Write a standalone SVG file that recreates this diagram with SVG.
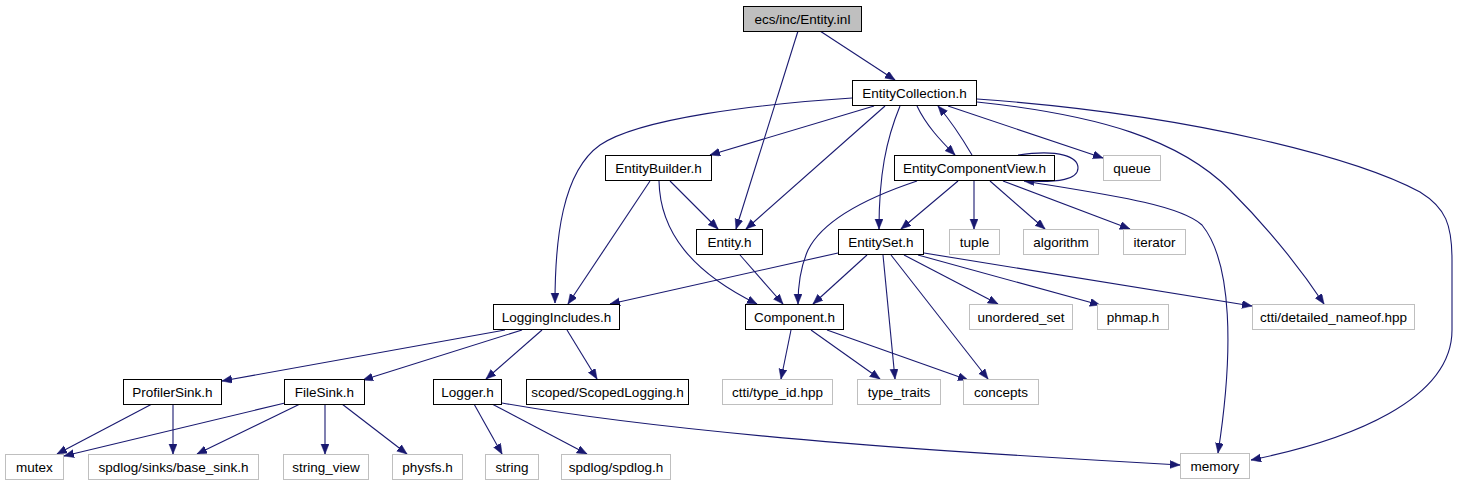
<svg xmlns="http://www.w3.org/2000/svg" width="1457" height="485" viewBox="0 0 1457 485">
<defs>
<marker id="arr" markerUnits="userSpaceOnUse" markerWidth="12" markerHeight="9" refX="10" refY="4" orient="auto">
<path d="M0,0 L10,4 L0,8 z" fill="#191970" stroke="#191970" stroke-width="0.5"/>
</marker>
<style>
.n rect{fill:#fff;stroke:#000;stroke-width:1}
.g rect{fill:#fff;stroke:#bfbfbf;stroke-width:1}
.n text,.g text{font-family:"Liberation Sans",Arial,sans-serif;font-size:13.5px;fill:#000;text-anchor:middle}
#edges path{fill:none;stroke:#191970;stroke-width:1.1;marker-end:url(#arr)}
</style>
</defs>
<rect width="1457" height="485" fill="#fff"/>
<g id="edges">
<path d="M820,31 L895,80"/>
<path d="M798,31 L736,229"/>
<path d="M852,98 C760,104 640,118 600,145 C562,172 555,240 555,303"/>
<path d="M874,106 L710,155"/>
<path d="M885,106 L746,229"/>
<path d="M900,106 C886,140 879,175 879,229"/>
<path d="M917,106 C926,125 940,140 955,155"/>
<path d="M972,155 C962,138 950,120 938,106"/>
<path d="M948,106 L1103,158"/>
<path d="M977,102 C1100,115 1180,140 1230,190 C1268,228 1300,268 1324,304"/>
<path d="M977,99 C1200,115 1360,160 1420,192 C1446,208 1452,225 1452,260 L1452,330 C1452,400 1350,440 1251,460"/>
<path d="M1018,155 C1060,149 1078,157 1078,168 C1078,179 1060,183 1024,181"/>
<path d="M917,181 C860,200 822,222 808,250 C800,268 798,285 798,304"/>
<path d="M958,181 L901,229"/>
<path d="M974,181 L974,229"/>
<path d="M990,181 L1045,229"/>
<path d="M1003,181 L1130,229"/>
<path d="M1030,182 C1110,195 1180,205 1202,225 C1232,262 1234,350 1218,453"/>
<path d="M670,181 L718,229"/>
<path d="M650,181 L568,304"/>
<path d="M659,181 C660,232 692,272 757,304"/>
<path d="M740,255 L783,304"/>
<path d="M838,253 L610,304"/>
<path d="M867,255 L813,304"/>
<path d="M883,255 L895,379"/>
<path d="M891,255 L988,379"/>
<path d="M904,255 L998,304"/>
<path d="M918,255 L1100,305"/>
<path d="M924,253 L1252,306"/>
<path d="M791,330 L781,379"/>
<path d="M811,330 L880,379"/>
<path d="M827,330 L968,380"/>
<path d="M505,330 L222,381"/>
<path d="M522,330 L363,380"/>
<path d="M542,330 L486,379"/>
<path d="M567,330 L597,379"/>
<path d="M152,404 L57,454"/>
<path d="M173,404 L173,454"/>
<path d="M285,403 L64,456"/>
<path d="M300,404 L197,454"/>
<path d="M325,404 L325,454"/>
<path d="M342,404 L407,454"/>
<path d="M474,404 L502,454"/>
<path d="M492,404 L587,454"/>
<path d="M502,403 C700,438 1000,455 1180,465"/>
</g>
<g id="entity_inl" class="n"><rect x="743.5" y="6.5" width="118" height="25" style="fill:#bfbfbf"/><text x="802.5" y="23.5">ecs/inc/Entity.inl</text></g>
<g id="entitycollection" class="n"><rect x="852.5" y="80.5" width="124" height="25"/><text x="914.5" y="97.5">EntityCollection.h</text></g>
<g id="entitybuilder" class="n"><rect x="605.5" y="155.5" width="106" height="25"/><text x="658.5" y="172.5">EntityBuilder.h</text></g>
<g id="entitycomponentview" class="n"><rect x="894.5" y="155.5" width="160" height="25"/><text x="974.5" y="172.5">EntityComponentView.h</text></g>
<g id="queue" class="g"><rect x="1103.5" y="155.5" width="57" height="25"/><text x="1132" y="172.5">queue</text></g>
<g id="entity_h" class="n"><rect x="696.5" y="229.5" width="66" height="25"/><text x="729.5" y="246.5">Entity.h</text></g>
<g id="entityset" class="n"><rect x="838.5" y="229.5" width="85" height="25"/><text x="881" y="246.5">EntitySet.h</text></g>
<g id="tuple" class="g"><rect x="949.5" y="229.5" width="50" height="25"/><text x="974.5" y="246.5">tuple</text></g>
<g id="algorithm" class="g"><rect x="1023.5" y="229.5" width="75" height="25"/><text x="1061" y="246.5">algorithm</text></g>
<g id="iterator" class="g"><rect x="1123.5" y="229.5" width="62" height="25"/><text x="1154.5" y="246.5">iterator</text></g>
<g id="loggingincludes" class="n"><rect x="493.5" y="304.5" width="126" height="25"/><text x="556.5" y="321.5">LoggingIncludes.h</text></g>
<g id="component" class="n"><rect x="745.5" y="304.5" width="98" height="25"/><text x="794.5" y="321.5">Component.h</text></g>
<g id="unordered_set" class="g"><rect x="969.5" y="304.5" width="103" height="25"/><text x="1021" y="321.5">unordered_set</text></g>
<g id="phmap" class="g"><rect x="1097.5" y="304.5" width="71" height="25"/><text x="1133" y="321.5">phmap.h</text></g>
<g id="detailed_nameof" class="g"><rect x="1252.5" y="304.5" width="162" height="25"/><text x="1333.5" y="321.5">ctti/detailed_nameof.hpp</text></g>
<g id="profilersink" class="n"><rect x="123.5" y="379.5" width="98" height="25"/><text x="172.5" y="396.5">ProfilerSink.h</text></g>
<g id="filesink" class="n"><rect x="284.5" y="379.5" width="80" height="25"/><text x="324.5" y="396.5">FileSink.h</text></g>
<g id="logger" class="n"><rect x="433.5" y="379.5" width="68" height="25"/><text x="467.5" y="396.5">Logger.h</text></g>
<g id="scopedlogging" class="n"><rect x="526.5" y="379.5" width="162" height="25"/><text x="607.5" y="396.5">scoped/ScopedLogging.h</text></g>
<g id="type_id" class="g"><rect x="722.5" y="379.5" width="110" height="25"/><text x="777.5" y="396.5">ctti/type_id.hpp</text></g>
<g id="type_traits" class="g"><rect x="857.5" y="379.5" width="83" height="25"/><text x="899" y="396.5">type_traits</text></g>
<g id="concepts" class="g"><rect x="963.5" y="379.5" width="75" height="25"/><text x="1001" y="396.5">concepts</text></g>
<g id="mutex" class="g"><rect x="5.5" y="454.5" width="58" height="25"/><text x="34.5" y="471.5">mutex</text></g>
<g id="base_sink" class="g"><rect x="88.5" y="454.5" width="170" height="25"/><text x="173.5" y="471.5">spdlog/sinks/base_sink.h</text></g>
<g id="string_view" class="g"><rect x="283.5" y="454.5" width="85" height="25"/><text x="326" y="471.5">string_view</text></g>
<g id="physfs" class="g"><rect x="392.5" y="454.5" width="70" height="25"/><text x="427.5" y="471.5">physfs.h</text></g>
<g id="string" class="g"><rect x="485.5" y="454.5" width="53" height="25"/><text x="512" y="471.5">string</text></g>
<g id="spdlog" class="g"><rect x="561.5" y="454.5" width="109" height="25"/><text x="616" y="471.5">spdlog/spdlog.h</text></g>
<g id="memory" class="g"><rect x="1180.5" y="453.5" width="69" height="25"/><text x="1215" y="470.5">memory</text></g>
</svg>
